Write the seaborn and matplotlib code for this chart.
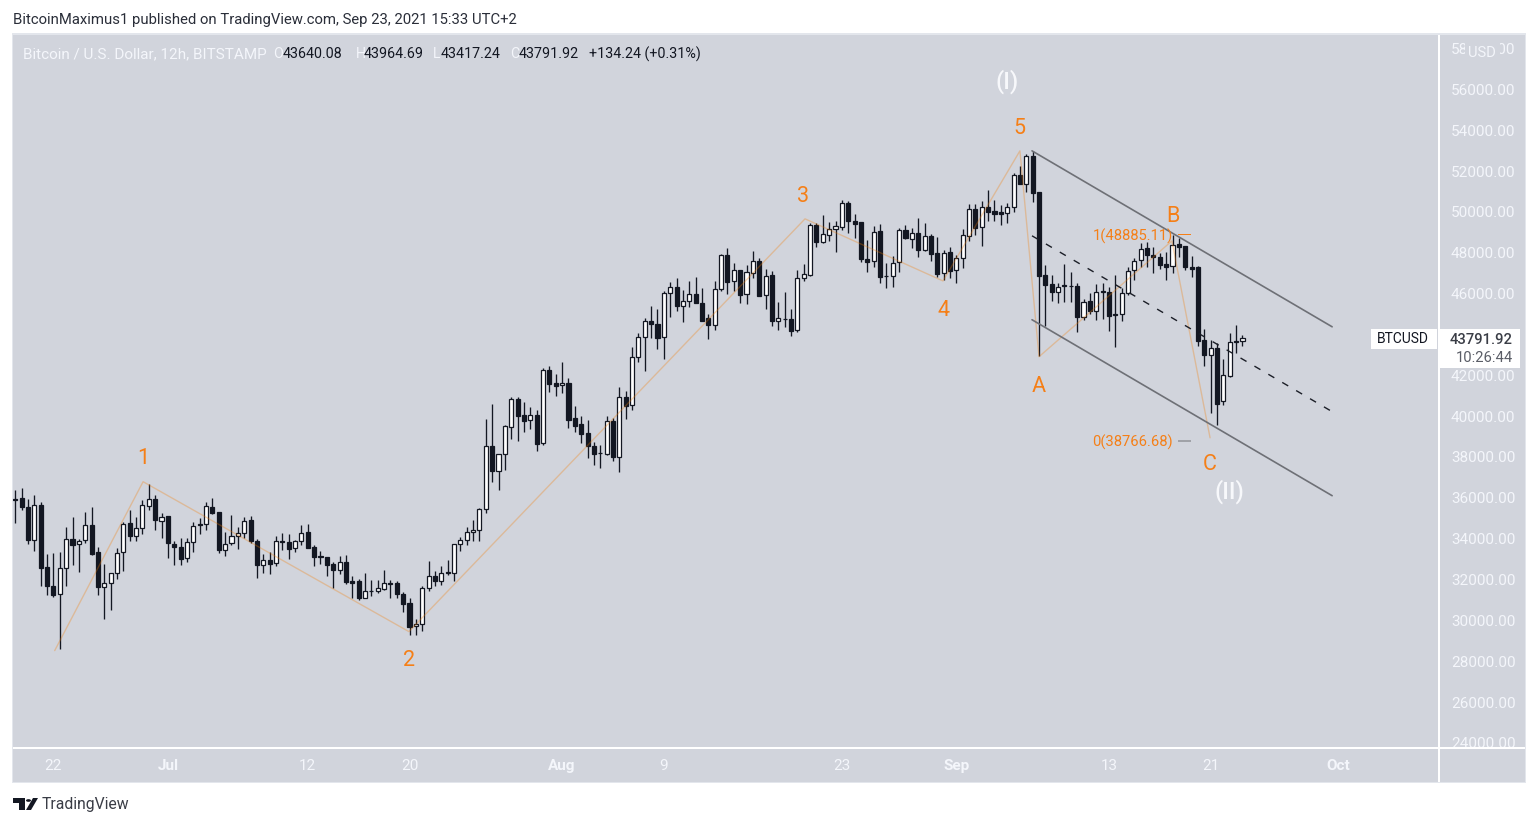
import matplotlib
matplotlib.use("Agg")
import matplotlib.pyplot as plt
import seaborn as sns
import numpy as np
from matplotlib.patches import Rectangle, Polygon
from matplotlib.transforms import Bbox, TransformedBbox, ScaledTranslation

# ---------- data (12h candles, USD) ----------
opens = [35939,35988,35548,33900,35646,32612,31682,31258,32530,33982,33705,33917,34667,33346,31617,31796,32286,33313,34765,34096,
34488,35564,35923,34830,35107,33737,33591,33020,33819,34716,34683,35531,35303,33411,33753,34095,34242,34911,33883,32676,
32954,32774,33867,33834,33508,33851,34324,33590,33133,33100,32758,32464,32856,31910,31926,31094,31437,31404,31502,31828,
31828,31290,30850,29692,29790,31551,32171,31893,32351,32302,33721,33917,34292,34406,35417,38516,37277,38108,39446,40816,
40049,39772,40049,38647,42235,41615,41485,41615,39902,39609,39169,38532,38190,38141,39756,37962,40930,40506,42854,43833,
44648,44485,43833,45986,46295,45350,45594,45953,45529,44779,44420,46181,47878,46573,47144,45937,47013,47584,45888,46899,
44616,44746,44746,44175,46720,46915,49329,48530,48872,49166,49264,50422,49542,49493,47682,47552,49052,46851,46818,47503,
49101,48677,48955,48139,48808,47976,46965,48025,47112,47699,48824,50129,49264,50227,50031,49982,49933,50243,51792,51368,
52722,50961,46899,46459,46035,46394,46361,46361,44845,45627,45138,46117,46068,44991,44959,46003,47112,47601,48221,47878,
47780,47438,47307,48416,48318,47291,47291,43718,42984,43327,40701,41924,43653,43640]
highs = [36380,36477,35923,36135,35792,33248,33297,33346,34553,35042,33966,35303,35548,33591,32759,32302,33542,34814,35401,35042,
35858,36673,36135,35238,35107,33884,34031,33998,34798,35010,35760,35988,35303,34324,35155,34568,35058,35107,33981,33247,
33345,34128,34275,34226,33916,34666,34715,33688,33394,33100,32856,33149,33198,32171,32024,32318,31975,31975,32464,31975,
31926,31388,31094,30067,31681,32905,32415,32660,32955,33721,34080,34569,34912,35483,39854,40587,38125,39544,40930,40930,
40685,40441,40294,42349,42447,42055,42643,41860,40490,40000,39805,38728,38581,40000,39902,41419,41224,43377,44045,44779,
45382,45235,46116,46556,46752,46165,46605,46801,46263,44991,46605,47926,48220,47486,47144,47388,48073,47731,47193,47095,
45578,46067,45235,47144,47437,49443,49443,49835,49492,49541,50569,50520,49884,49493,48612,49297,49395,47487,47829,49199,
49346,49199,49689,49444,48906,48759,48123,48270,47878,49150,50373,50373,50520,51059,50569,50325,50422,51890,52233,52820,
52967,50961,47389,46899,46508,47438,47046,46508,45725,46019,46459,46508,46312,46899,46263,47291,47731,48465,48514,48270,
47976,48025,48857,48710,48318,47829,47340,44256,43718,43571,42788,44061,44452,43964]
lows = [34749,35368,33737,33362,31682,31242,31112,28600,31682,32710,32335,33754,33199,31242,30068,30508,32025,32416,33884,33884,
34227,35368,34422,34031,33020,32710,32710,32857,33346,34227,34390,35205,33297,33150,33655,33492,33997,33769,32073,32318,
32269,32660,33443,33003,33345,33655,33541,32660,32758,32171,31584,32269,31779,31094,30996,31094,31192,31339,31486,31094,
31094,30409,29284,29284,29480,31437,31681,31730,32221,31894,33395,33688,33884,33884,35254,36771,36380,37358,38875,38777,
39218,39364,38288,38581,41175,40979,41126,39413,39218,38679,37945,37603,37456,38092,37798,37260,39854,40294,42610,42202,
43816,43278,42789,44844,45137,44599,45333,45529,44648,43767,44208,46116,45969,46116,45529,45480,46752,45871,45235,44404,
44208,44355,43914,44110,46605,46850,48269,48465,48563,48024,49101,48955,48710,47536,47046,47291,46508,46263,46312,47046,
48661,48221,47780,48074,47584,46802,46655,46753,46508,47242,48563,48857,48318,49542,49542,49346,49444,49982,51352,50961,
50471,42903,44404,45627,45529,45578,45578,44111,44698,44991,44698,44747,44160,43377,44649,45921,46655,47291,47291,46997,
47193,46655,46997,47780,47144,46802,43425,42446,40146,39559,40538,41875,43066,43417]
closes = [35858,35515,33900,35629,32530,31650,31209,32547,33966,33656,33868,34651,33248,31601,31813,32302,33281,34700,34129,34504,
35629,35923,34879,35042,33754,33558,33003,33819,34602,34634,35580,35254,33411,33721,34112,34258,34846,33883,32709,32937,
32758,33867,33802,33492,33867,34258,33541,33100,33068,32709,32464,32840,31877,31828,31094,31420,31404,31567,31812,31779,
31290,30801,29675,29806,31567,32154,31926,32301,32319,33721,33917,34308,34406,35434,38516,37277,38125,39495,40816,40000,
39756,40033,38630,42235,41566,41468,41599,39805,39511,39120,38500,38141,38157,39739,37994,40914,40490,42871,43849,44632,
44469,43816,46002,46295,45382,45610,45953,45529,44648,44420,46198,47861,46556,47127,45920,47030,47568,45871,46834,44648,
44779,44714,44159,46736,46932,49329,48514,48889,49133,49280,50406,49558,49411,47682,47536,48987,46802,46818,47470,49085,
48710,48938,48123,48791,47927,46948,47960,47095,47715,48840,50113,49199,50210,49982,49884,49901,50210,51776,51352,52706,
50912,46851,46410,46068,46296,46329,46329,44845,45562,45138,46051,46035,44893,44926,46003,47079,47568,48155,47878,47748,
47389,47291,48351,48286,47291,47193,43670,42984,43310,40587,41989,43604,43588,43791]

# wave path: candle number, price
wave_x = [6.2, 20.1, 61.9, 124.2, 145.9, 158.0, 161.0, 181.9, 187.9]
wave_y = [28500, 36770, 29430, 49640, 46600, 52970, 42890, 48560, 38920]
# channel: candle number, price
chan_x = [159.9, 207.1]
chan_top = [52970, 44355]
chan_mid = [48810, 40200]
chan_low = [44700, 36085]

# 44000 sits behind the last-price box in the reference, so it is not listed
price_ticks = [p for p in range(24000, 60000, 2000) if p != 44000]
date_pos = [6, 24, 46, 62, 86, 102, 130, 148, 172, 188, 208]
date_labels = ["22", "Jul", "12", "20", "Aug", "9", "23", "Sep", "13", "21", "Oct"]
bold_dates = {"Jul", "Aug", "Sep", "Oct"}

# ---------- layout ----------
W, H = 1538, 826
PANE = "#D1D4DC"
DARK = "#131722"
LIGHT = "#F4F6FB"
ORANGE = "#F57F17"
sns.set_theme(style="white")
plt.rcParams["font.family"] = ["Roboto", "DejaVu Sans"]
fig = plt.figure(figsize=(W / 100, H / 100), dpi=100, facecolor="white")

def fx(x): return x / W
def fy(y): return 1 - y / H
def rect(x0, y0, x1, y1, color, z=1):
    fig.add_artist(Rectangle((fx(x0), fy(y1)), (x1 - x0) / W, (y1 - y0) / H, transform=fig.transFigure,
                             facecolor=color, edgecolor="none", zorder=z))
def label(x, y, s, color=LIGHT, size=9.8, ha="left", va="center", **kw):
    return fig.text(fx(x), fy(y + 1), s, color=color, fontsize=size, ha=ha, va=va, zorder=8, **kw)

rect(12, 33, 1526, 783, "#E3E6EC", -1)
rect(13, 35, 1525, 782, PANE, -1)

ax = fig.add_axes([fx(13), fy(747), (1438 - 13) / W, (747 - 35) / H], zorder=1)
ax.set_facecolor(PANE)
for s in ax.spines.values():
    s.set_visible(False)
ax.set_xlim(-0.36, 223.75)
ax.set_ylim(23780, 58642)

# candles
idx = np.arange(len(opens))
o, h, l, c = map(np.array, (opens, highs, lows, closes))
up = c >= o
ax.vlines(idx, l, h, color=DARK, lw=0.95, zorder=2)
ax.bar(idx[up], (c - o)[up], bottom=o[up], width=0.64, facecolor="white", edgecolor=DARK, linewidth=0.9, zorder=3)
ax.bar(idx[~up], (o - c)[~up], bottom=c[~up], width=0.64, facecolor=DARK, edgecolor=DARK, linewidth=0.9, zorder=3)

# wave path and channel
sns.lineplot(x=wave_x, y=wave_y, ax=ax, sort=False, estimator=None, color="#F57C00", alpha=0.3, lw=1.0, zorder=4)
sns.lineplot(x=chan_x, y=chan_top, ax=ax, color="#6E7076", lw=1.2, zorder=4, estimator=None)
sns.lineplot(x=chan_x, y=chan_low, ax=ax, color="#6E7076", lw=1.2, zorder=4, estimator=None)
sns.lineplot(x=chan_x, y=chan_mid, ax=ax, color="#1B1E27", lw=1.0, zorder=4, estimator=None, linestyle=(0, (5, 6.6)))
ax.set_xlabel(""); ax.set_ylabel("")

# axes ticks
ax.yaxis.tick_right()
ax.set_yticks(price_ticks)
ax.set_yticklabels([f"{p:.2f}" for p in price_ticks])
ax.tick_params(axis="y", length=0, pad=9.4, labelsize=11, labelcolor=LIGHT)
clip = TransformedBbox(Bbox([[fx(1439), fy(749)], [fx(1525), fy(35)]]), fig.transFigure)
nudge = ScaledTranslation(0, -0.4 / 100, fig.dpi_scale_trans)
for t in ax.get_yticklabels():
    t.set_clip_box(clip)
    t.set_clip_on(True)
    t.set_transform(t.get_transform() + nudge)
ax.set_xticks(date_pos)
ax.set_xticklabels(date_labels)
ax.tick_params(axis="x", length=0, pad=8.5, labelsize=11, labelcolor=LIGHT)
for t in ax.get_xticklabels():
    if t.get_text() in bold_dates:
        t.set_fontweight("bold")
ax.grid(False)

# separators
rect(13, 747, 1525, 749, "white", 5)
rect(1438, 35, 1439.5, 782, "white", 5)

# header and legend
label(13, 19, "BitcoinMaximus1 published on TradingView.com, Sep 23, 2021 15:33 UTC+2", color="#2A2E39", size=10.7)
label(23, 53, "Bitcoin / U.S. Dollar, 12h, BITSTAMP", size=11)
for x, s in [(273, "O"), (356, "H"), (433, "L"), (510, "C")]:
    label(x, 53, s, size=10.3)
for x, s in [(283, "43640.08"), (364, "43964.69"), (441, "43417.24"), (519, "43791.92"), (589, "+134.24 (+0.31%)")]:
    label(x, 53, s, color=DARK, size=10.3)

# wave labels
for x, y, s in [(143, 457, "1"), (409, 659.5, "2"), (803, 195.5, "3"), (943, 309.5, "4"), (1019, 127.5, "5"),
                (1039, 386, "A"), (1173, 215.5, "B"), (1210, 464, "C")]:
    label(x, y, s, color=ORANGE, size=15.5, ha="center")
label(1007, 81, "(I)", color="#F7F8FB", size=17, ha="center", fontweight="medium")
label(1229, 491, "(II)", color="#F7F8FB", size=17, ha="center", fontweight="medium")

# fibonacci labels
label(1173, 235, "1(48885.11)", color=ORANGE, size=10.6, ha="right")
label(1173, 441, "0(38766.68)", color=ORANGE, size=10.6, ha="right")
rect(1178, 233.5, 1191, 234.7, ORANGE, 6)
rect(1178, 440.5, 1191, 441.7, "#A0A2A8", 6)

# price scale boxes
rect(1465, 37, 1500, 66, PANE, 6)
fig.text(fx(1482), fy(53), "USD", color=LIGHT, fontsize=10.6, ha="center", va="center", zorder=8)
rect(1371, 329, 1437, 349, "white", 6)
label(1403, 338, "BTCUSD", color=DARK, size=10, ha="center")
rect(1439.5, 329, 1520, 368, "white", 6)
label(1513, 338.5, "43791.92", color="#3A3D46", size=10.6, ha="right", fontweight="medium")
label(1513, 356.5, "10:26:44", color="#5A5D66", size=10.6, ha="right")

# TradingView mark
for pts in [[(13, 798), (25, 798), (25, 810), (19, 810), (19, 802.5), (13, 802.5)],
            [(33, 798), (38, 798), (31, 810), (26, 810)]]:
    fig.add_artist(Polygon([(fx(a), fy(b)) for a, b in pts], closed=True, transform=fig.transFigure,
                           facecolor=DARK, edgecolor="none", zorder=6))
fig.add_artist(plt.Circle((fx(28.5), fy(800.5)), 2.5 / W, transform=fig.transFigure, facecolor=DARK, edgecolor="none", zorder=6))
label(42, 804, "TradingView", color="#3A3D46", size=11.3)

fig.savefig("out.png", dpi=100, facecolor="white")
